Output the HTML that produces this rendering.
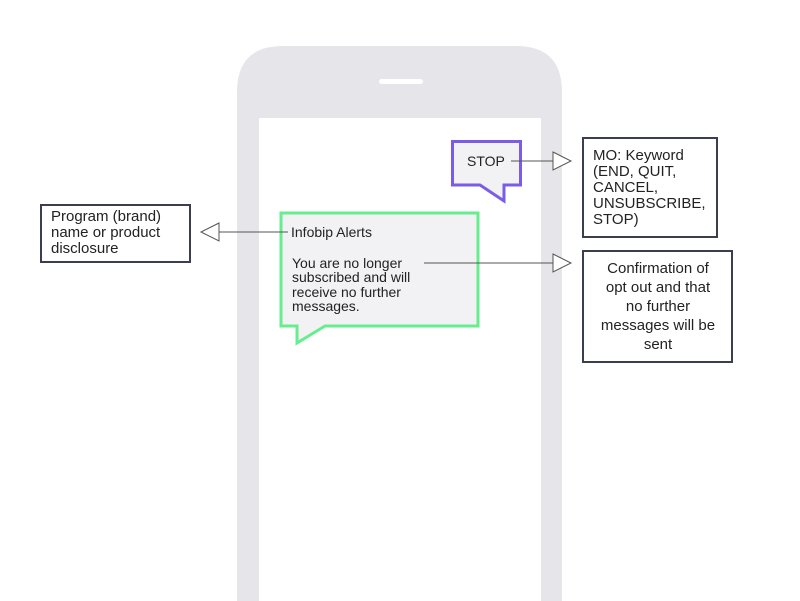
<!DOCTYPE html>
<html><head><style>
html,body{margin:0;padding:0;background:#fff;}
svg{display:block;font-family:"Liberation Sans",Arial,sans-serif;}
</style></head><body>
<svg width="800" height="601" viewBox="0 0 800 601" xmlns="http://www.w3.org/2000/svg">
<rect width="800" height="601" fill="#fff"/>
<path d="M237 601 V92 Q237 46 283 46 H516 Q562 46 562 92 V601 Z" fill="#e5e5ea"/>
<rect x="259" y="118" width="282" height="490" fill="#fff"/>
<rect x="379" y="79" width="44" height="5" rx="2.5" fill="#fff"/>
<path d="M452.5 141.5 H520.5 V185 H504 V201 L480 185 H452.5 Z" fill="#f2f1f4" stroke="#7b5ce6" stroke-width="3"/>
<text x="467" y="166" font-size="14" fill="#222">STOP</text>
<path d="M281 213 H478 V326 H325 L297 343 V326 H281 Z" fill="#f2f1f4" stroke="#66ee8e" stroke-width="3"/>
<text font-size="14" fill="#222"><tspan x="291" y="237">Infobip Alerts</tspan></text>
<text font-size="14" fill="#222"><tspan x="292" y="268">You are no longer</tspan><tspan x="292" y="282">subscribed and will</tspan><tspan x="292" y="297">receive no further</tspan><tspan x="292" y="311">messages.</tspan></text>
<g stroke="#555" stroke-width="1" fill="#fff">
<line x1="511" y1="161" x2="553" y2="161"/>
<path d="M553 152 L571 161 L553 170 Z"/>
<line x1="424" y1="263" x2="553" y2="263"/>
<path d="M553 254 L571 263 L553 272 Z"/>
<line x1="288" y1="232" x2="219" y2="232"/>
<path d="M219 223 L201 232 L219 241 Z"/>
</g>
<g fill="#fff" stroke="#3b3e4e" stroke-width="2">
<rect x="583" y="138" width="134" height="99"/>
<rect x="583" y="251" width="149" height="111"/>
<rect x="41" y="205" width="149" height="57"/>
</g>
<text font-size="15" fill="#222"><tspan x="593" y="160">MO: Keyword</tspan><tspan x="593" y="176">(END, QUIT,</tspan><tspan x="593" y="192">CANCEL,</tspan><tspan x="593" y="208">UNSUBSCRIBE,</tspan><tspan x="593" y="224">STOP)</tspan></text>
<text font-size="15" fill="#222" text-anchor="middle"><tspan x="658" y="273">Confirmation of</tspan><tspan x="658" y="292">opt out and that</tspan><tspan x="658" y="311">no further</tspan><tspan x="658" y="330">messages will be</tspan><tspan x="658" y="349">sent</tspan></text>
<text font-size="15" fill="#222"><tspan x="51" y="221">Program (brand)</tspan><tspan x="51" y="237">name or product</tspan><tspan x="51" y="253">disclosure</tspan></text>
</svg>
</body></html>
